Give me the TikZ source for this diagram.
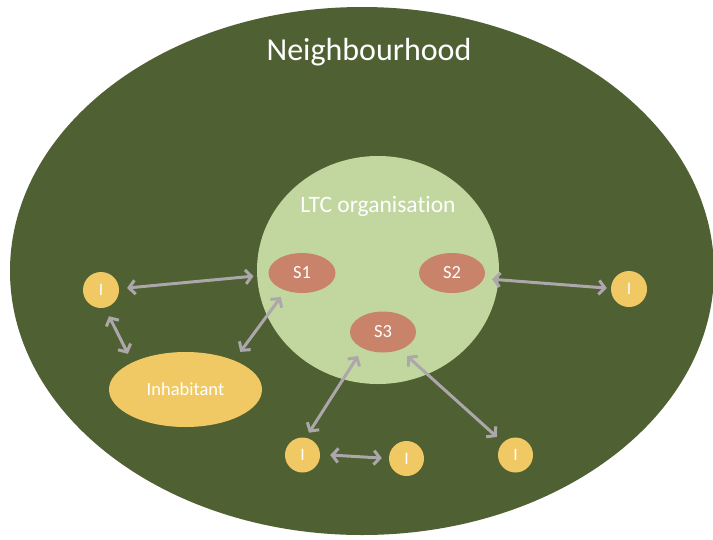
\documentclass[tikz,border=0pt]{standalone}
\usepackage{fontspec}
\setmainfont{Carlito}[Ligatures=NoCommon]
\usetikzlibrary{shapes.geometric,arrows.meta}

\definecolor{hoodgreen}{HTML}{4F6033}
\definecolor{orggreen}{HTML}{C2D6A0}
\definecolor{staffred}{HTML}{C9836A}
\definecolor{persongold}{HTML}{F1C964}
\definecolor{linkgrey}{HTML}{ABA7AB}

\tikzset{
  blob/.style={ellipse, inner sep=0pt, text=white},
  staff/.style={blob, fill=staffred, minimum width=67pt, minimum height=40pt,
                font=\fontsize{18.5}{20}\selectfont},
  person/.style={circle, inner sep=0pt, fill=persongold, minimum size=36pt,
                 text=white, font=\fontsize{17.5}{19}\selectfont},
  link/.style={draw=linkgrey, line width=3pt,
               {Straight Barb[length=6pt,width=14pt]}-{Straight Barb[length=6pt,width=14pt]}}
}

\begin{document}
\begin{tikzpicture}[x=1pt,y=-1pt]
  \useasboundingbox (0,0) rectangle (713,539);
  \clip (0,0) rectangle (713,539);
  \fill[white] (0,0) rectangle (713,539);

  % the neighbourhood and the organisation inside it
  \node[blob, fill=hoodgreen, minimum width=704pt, minimum height=528pt] (hood) at (362,271) {};
  \node[blob, fill=orggreen, minimum width=242pt, minimum height=228pt] (org) at (378,270) {};
  \node[anchor=base, text=white, font=\fontsize{32}{36}\selectfont] (hoodlabel) at (369,60) {Neighbourhood};
  \node[anchor=base, text=white, font=\fontsize{23.5}{26}\selectfont] (orglabel) at (378,212) {LTC organisation};

  % staff members
  \node[staff] (s1) at (302,273) {S1};
  \node[staff, minimum width=66pt] (s2) at (452,273) {S2};
  \node[staff, minimum width=66pt, minimum height=41pt] (s3) at (383,332) {S3};

  % inhabitants and informal carers
  \node[blob, fill=persongold, minimum width=153pt, minimum height=75pt,
        font=\fontsize{18.5}{20}\selectfont] (inh) at (185.5,389.5) {Inhabitant};
  \node[person] (i1) at (101,290) {I};
  \node[person] (i2) at (629,289) {I};
  \node[person, minimum size=35pt] (i3) at (302.5,455) {I};
  \node[person, minimum size=35pt] (i4) at (406.5,458.5) {I};
  \node[person, minimum size=35pt] (i5) at (515.5,455) {I};

  % relations
  \draw[link, shorten <=8pt, shorten >=15pt] (i1.4) -- (s1.183);
  \draw[link, shorten <=9.4pt, shorten >=9.6pt] (i1.282) -- (inh.153);
  \draw[link, shorten <=10.5pt, shorten >=8pt] (inh.31) -- (s1.227);
  \draw[link, shorten <=8.2pt, shorten >=4pt] (s2.350) -- (i2.178);
  \draw[link, shorten <=9pt, shorten >=5.8pt] (s3.219) -- (i3.79);
  \draw[link, shorten <=9.5pt, shorten >=8.3pt] (s3.314) -- (i5.135);
  \draw[link, shorten <=10pt, shorten >=7pt] (i3.2) -- (i4.180);
\end{tikzpicture}
\end{document}
